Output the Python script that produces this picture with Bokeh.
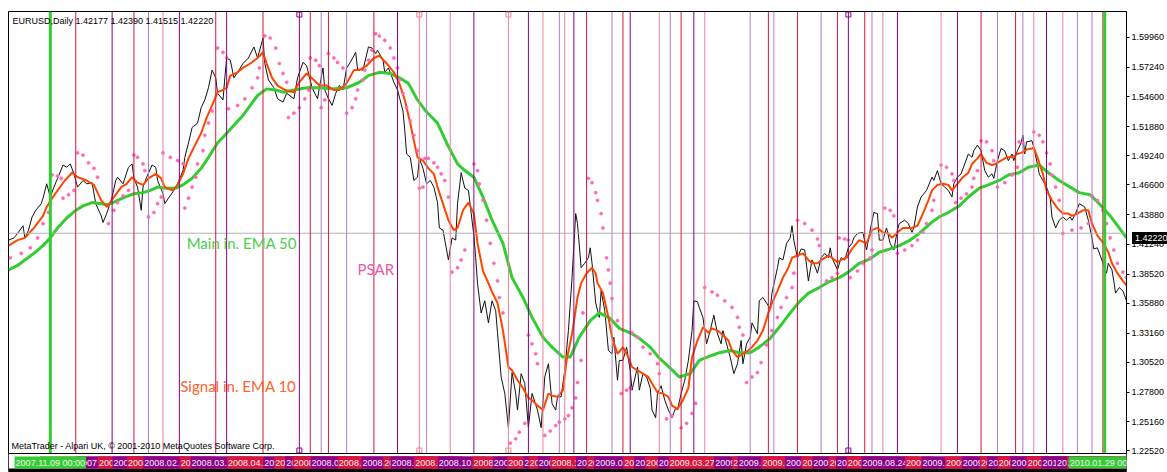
import numpy as np
from bokeh.plotting import figure
from bokeh.models import Range1d, FixedTicker, NumeralTickFormatter, Span, Label, Div, BoxAnnotation
from bokeh.embed import file_html
from bokeh.resources import INLINE

# ---------------- data (bar index = trading days since START_DATE) ----------------
START_DATE = "2007-10-09"

close_pts = [
    (0, 1.416), (3, 1.418), (5, 1.422), (8, 1.429), (9, 1.418), (11, 1.425), (13, 1.437), (15, 1.443), (18, 1.449), (19, 1.454),
    (21, 1.467), (23, 1.455), (25, 1.464), (27, 1.472), (30, 1.484), (32, 1.482), (34, 1.485), (36, 1.476), (38, 1.464), (41, 1.470),
    (43, 1.467), (46, 1.468), (48, 1.449), (51, 1.438), (52, 1.432), (54, 1.440), (57, 1.455), (59, 1.470), (60, 1.473), (63, 1.467),
    (66, 1.482), (68, 1.485), (69, 1.472), (71, 1.464), (73, 1.443), (74, 1.464), (76, 1.473), (79, 1.484), (81, 1.482), (82, 1.470),
    (85, 1.458), (86, 1.449), (88, 1.454), (91, 1.461), (93, 1.467), (96, 1.479), (97, 1.491), (99, 1.504), (101, 1.518), (104, 1.522),
    (106, 1.536), (108, 1.543), (110, 1.554), (112, 1.570), (114, 1.563), (115, 1.549), (118, 1.543), (119, 1.563), (120, 1.581), (122, 1.579),
    (124, 1.563), (126, 1.568), (129, 1.576), (132, 1.581), (135, 1.591), (137, 1.581), (140, 1.599), (141, 1.576), (143, 1.561), (146, 1.554),
    (148, 1.544), (151, 1.541), (153, 1.549),
    (157, 1.544), (159, 1.563), (162, 1.577), (164, 1.574), (167, 1.554), (170, 1.544), (171, 1.554), (173, 1.572), (174, 1.552), (176, 1.544),
    (178, 1.538), (180, 1.549), (182, 1.556), (184, 1.552), (186, 1.572), (188, 1.577), (191, 1.586), (192, 1.571), (195, 1.570), (198, 1.591),
    (200, 1.590), (202, 1.585), (203, 1.588), (206, 1.579), (207, 1.568), (209, 1.572), (212, 1.559), (214, 1.552), (217, 1.533), (218, 1.515),
    (219, 1.494), (221, 1.491), (223, 1.470), (225, 1.473), (226, 1.490), (228, 1.481), (230, 1.467), (232, 1.470), (234, 1.464), (236, 1.450),
    (237, 1.427), (239, 1.425), (241, 1.407), (242, 1.398), (244, 1.418), (246, 1.416), (247, 1.449), (249, 1.477), (251, 1.463), (253, 1.461),
    (256, 1.420), (257, 1.400), (258, 1.377), (260, 1.350), (262, 1.361), (264, 1.341), (266, 1.361), (268, 1.352), (269, 1.332), (271, 1.292),
    (273, 1.277), (275, 1.246), (277, 1.296), (279, 1.277), (280, 1.262), (282, 1.295), (284, 1.286), (286, 1.246), (288, 1.277), (291, 1.262),
    (293, 1.246), (295, 1.292), (297, 1.304), (299, 1.268), (301, 1.262), (302, 1.274), (304, 1.274), (306, 1.298),
    (308, 1.334), (310, 1.382), (312, 1.440), (313, 1.431), (315, 1.391), (317, 1.395), (319, 1.400), (320, 1.409), (321, 1.395), (323, 1.359),
    (325, 1.346), (326, 1.370), (328, 1.352), (330, 1.316), (332, 1.313), (333, 1.328), (335, 1.289), (336, 1.307), (338, 1.307), (340, 1.319),
    (342, 1.298), (343, 1.280), (346, 1.301), (347, 1.280), (349, 1.295), (351, 1.292), (353, 1.282), (354, 1.262), (356, 1.255), (357, 1.277),
    (359, 1.284), (361, 1.271), (363, 1.262), (365, 1.255), (367, 1.264), (368, 1.262), (370, 1.277), (372, 1.289), (374, 1.307), (376, 1.334),
    (377, 1.361), (379, 1.360), (380, 1.355), (382, 1.346), (384, 1.322), (386, 1.334), (388, 1.348), (390, 1.331), (392, 1.322), (393, 1.334),
    (395, 1.322), (397, 1.310), (399, 1.295), (401, 1.304), (403, 1.325), (404, 1.304), (406, 1.322), (408, 1.328), (409, 1.341), (412, 1.331),
    (413, 1.361), (415, 1.364), (417, 1.359), (419, 1.354), (420, 1.368), (423, 1.391), (424, 1.400), (426, 1.398), (428, 1.413), (430, 1.418),
    (431, 1.429), (432, 1.416), (434, 1.400), (436, 1.408), (438, 1.407), (440, 1.379), (442, 1.398), (443, 1.395), (445, 1.386), (447, 1.400),
    (449, 1.404), (451, 1.400), (452, 1.409), (453, 1.400), (456, 1.389), (458, 1.400), (460, 1.398), (462, 1.409),
    (464, 1.413), (465, 1.418), (467, 1.422), (470, 1.423), (472, 1.407), (474, 1.425), (476, 1.441), (478, 1.440), (479, 1.416), (481, 1.416),
    (483, 1.427), (485, 1.413), (487, 1.407), (489, 1.425), (490, 1.431), (493, 1.434), (495, 1.431), (497, 1.423), (498, 1.427), (500, 1.446),
    (502, 1.455), (505, 1.461), (508, 1.473), (509, 1.470), (511, 1.479), (513, 1.467), (515, 1.464), (517, 1.461), (519, 1.455), (520, 1.467),
    (522, 1.473), (524, 1.476), (526, 1.485), (528, 1.494), (530, 1.491), (531, 1.497), (533, 1.502), (535, 1.497), (537, 1.479), (539, 1.473),
    (541, 1.476), (542, 1.472), (544, 1.488), (546, 1.499), (548, 1.497), (550, 1.488), (552, 1.494), (553, 1.488), (555, 1.497), (557, 1.504),
    (558, 1.511), (559, 1.494), (560, 1.505), (563, 1.506), (564, 1.500), (566, 1.485), (567, 1.476), (569, 1.470), (571, 1.464), (573, 1.455),
    (574, 1.437), (576, 1.427), (578, 1.434), (580, 1.437), (582, 1.434), (584, 1.437), (585, 1.434), (587, 1.440), (589, 1.449), (592, 1.446),
    (594, 1.434), (596, 1.418), (597, 1.408), (599, 1.409), (601, 1.400), (603, 1.391), (604, 1.386), (605, 1.395), (607, 1.389), (608, 1.379),
    (609, 1.368), (611, 1.373), (613, 1.370), (615, 1.361),
]

ema10_pts = [
    (0, 1.411), (5, 1.416), (9, 1.418), (14, 1.427), (19, 1.438), (21, 1.446), (24, 1.454), (27, 1.461), (31, 1.470), (35, 1.477),
    (38, 1.473), (43, 1.470), (47, 1.466), (51, 1.452), (54, 1.446), (58, 1.455), (62, 1.464), (65, 1.467), (68, 1.473), (71, 1.468),
    (74, 1.466), (77, 1.472), (81, 1.476), (84, 1.472), (86, 1.464), (90, 1.461), (93, 1.466), (96, 1.476), (99, 1.490), (102, 1.500),
    (106, 1.513), (109, 1.527), (112, 1.538), (115, 1.550), (118, 1.552), (120, 1.554), (122, 1.565), (126, 1.568), (129, 1.572), (133, 1.576),
    (137, 1.581), (140, 1.586), (142, 1.576), (145, 1.563), (148, 1.556), (152, 1.552), (157, 1.550), (160, 1.559), (164, 1.567), (168, 1.561),
    (171, 1.556), (175, 1.556), (179, 1.552), (182, 1.552), (186, 1.558), (190, 1.570), (193, 1.570), (197, 1.574), (201, 1.581), (204, 1.583),
    (208, 1.576), (212, 1.568), (215, 1.558), (218, 1.543), (221, 1.522), (223, 1.506), (225, 1.491), (228, 1.488), (231, 1.481), (234, 1.476),
    (236, 1.464), (239, 1.449), (242, 1.434), (245, 1.425), (247, 1.427), (250, 1.443), (253, 1.450), (256, 1.440), (258, 1.413), (261, 1.388),
    (264, 1.377), (266, 1.369), (269, 1.359), (272, 1.334), (275, 1.301), (277, 1.298), (280, 1.289), (283, 1.282), (286, 1.273), (288, 1.271),
    (291, 1.266), (294, 1.262), (297, 1.277), (299, 1.275), (302, 1.274), (305, 1.280), (307, 1.307), (310, 1.331), (313, 1.364), (315, 1.377),
    (318, 1.386), (321, 1.391), (323, 1.386), (324, 1.377), (327, 1.368), (330, 1.346), (332, 1.328), (335, 1.313), (338, 1.319), (341, 1.310),
    (343, 1.301), (346, 1.298), (349, 1.295), (352, 1.292), (354, 1.286), (357, 1.278), (360, 1.277), (363, 1.274), (365, 1.266), (368, 1.263),
    (371, 1.271), (374, 1.282), (376, 1.310), (379, 1.325), (382, 1.337), (385, 1.332), (387, 1.336), (390, 1.334), (393, 1.330), (396, 1.325),
    (398, 1.316), (401, 1.310), (404, 1.313), (407, 1.316), (409, 1.319), (412, 1.325), (415, 1.334), (418, 1.350), (420, 1.359), (423, 1.370),
    (426, 1.382), (429, 1.391), (431, 1.400), (434, 1.402), (437, 1.404), (440, 1.398), (442, 1.395), (445, 1.395), (448, 1.399), (451, 1.402),
    (453, 1.400), (456, 1.396), (459, 1.399), (461, 1.400), (464, 1.408), (468, 1.416), (472, 1.413), (475, 1.425), (478, 1.427), (481, 1.423),
    (484, 1.422), (486, 1.418), (489, 1.423), (492, 1.427), (494, 1.427), (497, 1.427), (500, 1.429), (503, 1.440), (506, 1.452), (508, 1.461),
    (511, 1.466), (514, 1.467), (517, 1.466), (519, 1.461), (522, 1.467), (525, 1.473), (528, 1.477), (530, 1.485), (533, 1.490), (535, 1.494),
    (538, 1.486), (541, 1.484), (543, 1.485), (546, 1.488), (549, 1.491), (552, 1.491), (555, 1.494), (557, 1.495), (560, 1.498), (563, 1.499),
    (564, 1.500), (566, 1.491), (569, 1.476), (571, 1.461), (574, 1.452), (577, 1.445), (580, 1.440), (583, 1.440), (585, 1.438), (588, 1.440),
    (591, 1.443), (594, 1.443), (596, 1.431), (599, 1.420), (602, 1.414), (605, 1.405), (607, 1.395), (610, 1.386), (613, 1.379), (615, 1.375),
]

ema50_pts = [
    (0, 1.389), (5, 1.393), (9, 1.398), (14, 1.404), (19, 1.411), (23, 1.418), (27, 1.427), (32, 1.436), (37, 1.443), (41, 1.447),
    (46, 1.450), (51, 1.449), (55, 1.448), (60, 1.452), (64, 1.455), (69, 1.458), (74, 1.459), (78, 1.461), (82, 1.464), (87, 1.463),
    (92, 1.463), (96, 1.466), (101, 1.472), (106, 1.481), (110, 1.491), (115, 1.504), (119, 1.511), (124, 1.520), (129, 1.529), (133, 1.538),
    (137, 1.547), (142, 1.553), (147, 1.552), (151, 1.550), (157, 1.552), (164, 1.554), (171, 1.554), (178, 1.553), (186, 1.554), (193, 1.559),
    (198, 1.565), (204, 1.568), (210, 1.567), (215, 1.563), (220, 1.558), (225, 1.543), (230, 1.532), (236, 1.522), (241, 1.504), (247, 1.485),
    (251, 1.479), (256, 1.473), (261, 1.455), (266, 1.434), (272, 1.413), (277, 1.382), (283, 1.364), (288, 1.346), (294, 1.328), (299, 1.319),
    (305, 1.310), (309, 1.310), (314, 1.328), (320, 1.343), (325, 1.350), (331, 1.345), (336, 1.336), (342, 1.332), (347, 1.327), (353, 1.319),
    (358, 1.309), (364, 1.300), (369, 1.292), (375, 1.295), (380, 1.307), (386, 1.311), (391, 1.314), (397, 1.316), (402, 1.314), (408, 1.314),
    (413, 1.319), (419, 1.327), (424, 1.337), (430, 1.350), (435, 1.360), (440, 1.368), (446, 1.373), (451, 1.378), (457, 1.382), (462, 1.387),
    (468, 1.395), (474, 1.399), (479, 1.405), (485, 1.408), (490, 1.411), (496, 1.416), (501, 1.422), (507, 1.431), (512, 1.437), (517, 1.441),
    (523, 1.447), (528, 1.455), (534, 1.463), (539, 1.466), (545, 1.470), (550, 1.475), (556, 1.477), (561, 1.482), (567, 1.484), (572, 1.477),
    (578, 1.470), (584, 1.464), (589, 1.459), (595, 1.457), (600, 1.449), (606, 1.438), (611, 1.427), (615, 1.418),
]

psar_pts = [
    (1, 1.400), (7, 1.404), (12, 1.409), (16, 1.418), (19, 1.431), (22, 1.441),
    (24, 1.475), (27, 1.474), (29, 1.472),
    (30, 1.454), (33, 1.457), (36, 1.461),
    (38, 1.495), (41, 1.493), (44, 1.486), (47, 1.481), (49, 1.473),
    (55, 1.431), (58, 1.443), (60, 1.450), (63, 1.456), (66, 1.461),
    (69, 1.493), (71, 1.491), (74, 1.485), (75, 1.479),
    (77, 1.437), (80, 1.441), (82, 1.449), (84, 1.455),
    (85, 1.495), (89, 1.491), (93, 1.488), (96, 1.485),
    (97, 1.445), (99, 1.454), (101, 1.464), (103, 1.473), (104, 1.485), (107, 1.497), (108, 1.511), (110, 1.522), (112, 1.533),
    (115, 1.590), (118, 1.586), (120, 1.581),
    (121, 1.535), (126, 1.538), (130, 1.544), (134, 1.554), (137, 1.563), (138, 1.572),
    (141, 1.601), (144, 1.599), (147, 1.590), (149, 1.576), (151, 1.567), (153, 1.559),
    (154, 1.527), (157, 1.531), (160, 1.536), (163, 1.544), (165, 1.552),
    (166, 1.581), (169, 1.579), (171, 1.574),
    (172, 1.536), (174, 1.543),
    (176, 1.585), (179, 1.581), (181, 1.577), (184, 1.572),
    (186, 1.531), (189, 1.536), (191, 1.544), (192, 1.552), (195, 1.561), (196, 1.570), (198, 1.579), (200, 1.588),
    (202, 1.603), (204, 1.601), (207, 1.597), (210, 1.590), (212, 1.581), (214, 1.572), (215, 1.561), (217, 1.549), (219, 1.536), (221, 1.524), (223, 1.511), (225, 1.497),
    (226, 1.463), (228, 1.464),
    (229, 1.490), (231, 1.490), (234, 1.486), (236, 1.482), (238, 1.476), (240, 1.470), (242, 1.455),
    (244, 1.387), (247, 1.391), (249, 1.398), (251, 1.407),
    (256, 1.485), (258, 1.479), (259, 1.467), (261, 1.452), (263, 1.434), (265, 1.413), (267, 1.395), (269, 1.379), (270, 1.364), (272, 1.350),
    (276, 1.232), (279, 1.236), (281, 1.242), (284, 1.250),
    (286, 1.330), (288, 1.322), (290, 1.313), (291, 1.304),
    (295, 1.239), (298, 1.243), (301, 1.248), (303, 1.251), (306, 1.254), (308, 1.257), (310, 1.264), (312, 1.273), (313, 1.287), (315, 1.307), (316, 1.350),
    (319, 1.472), (321, 1.468), (323, 1.459), (324, 1.452), (326, 1.440), (327, 1.427), (329, 1.400), (330, 1.389), (331, 1.377), (332, 1.363), (335, 1.343),
    (337, 1.277), (340, 1.280), (342, 1.282),
    (343, 1.332), (346, 1.328), (349, 1.319), (353, 1.313), (357, 1.304), (358, 1.295),
    (362, 1.254), (365, 1.257),
    (370, 1.246), (373, 1.250), (376, 1.259), (378, 1.268),
    (383, 1.373), (387, 1.369), (390, 1.366), (394, 1.361), (398, 1.355), (401, 1.346), (402, 1.337), (404, 1.330),
    (406, 1.287), (409, 1.292), (412, 1.296), (414, 1.305), (417, 1.321), (420, 1.334), (423, 1.346), (425, 1.355), (428, 1.364), (431, 1.373), (432, 1.386),
    (434, 1.434), (438, 1.431), (442, 1.425), (445, 1.417), (446, 1.411),
    (450, 1.379), (453, 1.382), (456, 1.386),
    (457, 1.418), (460, 1.417), (462, 1.416),
    (463, 1.382), (467, 1.388), (470, 1.395), (474, 1.400), (475, 1.407),
    (482, 1.445), (485, 1.443), (487, 1.438),
    (489, 1.404), (493, 1.407), (497, 1.411), (500, 1.416), (503, 1.423), (505, 1.431), (508, 1.443), (509, 1.452),
    (513, 1.484), (516, 1.482), (519, 1.476), (520, 1.470),
    (521, 1.450), (524, 1.454), (527, 1.458), (530, 1.464), (531, 1.472), (533, 1.479),
    (535, 1.506), (538, 1.505), (541, 1.497), (542, 1.488),
    (544, 1.464), (548, 1.468), (552, 1.475), (555, 1.482),
    (556, 1.505), (558, 1.504),
    (564, 1.514), (567, 1.511), (569, 1.505), (571, 1.495), (573, 1.485), (574, 1.475), (576, 1.464), (578, 1.452),
    (580, 1.422), (585, 1.425), (590, 1.427), (594, 1.431),
    (596, 1.456), (599, 1.452), (602, 1.443), (604, 1.431), (606, 1.418), (608, 1.407), (610, 1.395),
    (613, 1.387), (615, 1.382),
]

# vertical line objects: bar index and kind (C crimson, c light crimson, P purple, p light purple, G green)
vline_bars = [23, 37, 57, 69, 77, 85, 94, 114, 120, 140, 160, 166, 172, 176, 186, 201, 214, 226, 230, 243,
              256, 275, 286, 294, 303, 306, 311, 318, 332, 338, 342, 358, 364, 370, 377, 383, 408, 418, 421, 434,
              447, 456, 462, 471, 475, 481, 489, 513, 522, 535, 544, 554, 558, 564, 571, 580, 588, 596, 602, 603]
vline_kinds = ["G", "C", "P", "C", "p", "c", "P", "C", "P", "C", "P", "C", "p", "C", "p", "C", "P", "c", "p", "c",
               "P", "c", "P", "c", "p", "c", "P", "C", "p", "C", "P", "c", "p", "C", "P", "c", "p", "C", "p", "C",
               "p", "C", "P", "C", "p", "c", "P", "c", "P", "C", "p", "C", "p", "c", "P", "c", "p", "p", "C", "G"]
marked_bars = [160, 226, 275, 462]

price_ticks = [1.5996, 1.5724, 1.5460, 1.5188, 1.4924, 1.4660, 1.4388, 1.4124,
               1.3852, 1.3588, 1.3316, 1.3052, 1.2780, 1.2516, 1.2252]
bid_price = 1.4222
header_text = "EURUSD,Daily  1.42177 1.42390 1.41515 1.42220"
footer_text = "MetaTrader - Alpari UK, \u00a9 2001-2010 MetaQuotes Software Corp."

# ---------------- styling / layout ----------------
LINE_COL = {"C": "#DC143C", "c": "#EE8298", "P": "#8B008B", "p": "#B47CC8", "G": "#32CD32"}
LABEL_COL = {"C": "#DC143C", "c": "#DC143C", "P": "#8B008B", "p": "#8B008B", "G": "#32CD32"}
FONT = "Liberation Sans"

W, H = 1167, 472
B_LEFT, B_TOP, B_RIGHT, B_BOTTOM = 8, 11, 40, 0
FRAME_W = W - B_LEFT - B_RIGHT
FRAME_H = H - B_TOP - B_BOTTOM
X0, X1 = 0, 615
Y1 = 1.6231                      # price at the top edge
PX = 0.000906                    # price per pixel
Y0 = Y1 - FRAME_H * PX           # frame bottom (includes the time-label strip)
Y_CHART_BOTTOM = Y1 - 442 * PX   # bottom edge of the price area

p = figure(width=W, height=H, x_range=Range1d(X0, X1), y_range=Range1d(Y0, Y1),
           x_axis_location=None, y_axis_location="right",
           output_backend="svg", toolbar_location=None,
           min_border_left=B_LEFT, min_border_right=B_RIGHT,
           min_border_top=B_TOP, min_border_bottom=B_BOTTOM)
p.outline_line_color = "black"
p.outline_line_width = 1
p.grid.visible = False
p.background_fill_color = "white"
p.border_fill_color = "white"

ax = p.yaxis[0]
ax.ticker = FixedTicker(ticks=price_ticks, minor_ticks=[])
ax.formatter = NumeralTickFormatter(format="0.00000")
ax.major_label_text_font = FONT
ax.major_label_text_font_size = "9px"
ax.major_label_text_color = "black"
ax.major_tick_out = 3
ax.major_tick_in = 0
ax.minor_tick_out = 0
ax.minor_tick_in = 0
ax.major_label_standoff = 2
ax.axis_line_color = "black"


def unzip(pts):
    return [a for a, _ in pts], [b for _, b in pts]


cx, cy = unzip(close_pts)
e10x, e10y = unzip(ema10_pts)
e50x, e50y = unzip(ema50_pts)
psx, psy = unzip(psar_pts)

p.line(cx, cy, line_color="#111111", line_width=1)
p.line(e50x, e50y, line_color="#32CD32", line_width=3)
p.line(e10x, e10y, line_color="#FF4500", line_width=2)
p.scatter(psx, psy, marker="circle", size=3.2, fill_color="#FF69B4", line_color="#FF69B4", line_width=0.5)

# bid line
p.add_layout(Span(location=bid_price, dimension="width", line_color="#B4B4B4", line_width=1))

# vertical lines
for b, k in zip(vline_bars, vline_kinds):
    p.add_layout(Span(location=b, dimension="height", line_color=LINE_COL[k],
                      line_width=3 if k == "G" else 1))

# small hollow squares on some line objects
mk_cols = [LINE_COL[vline_kinds[vline_bars.index(b)]] for b in marked_bars]
p.scatter(marked_bars, [Y1 - 3 * PX] * len(marked_bars), marker="square", size=5,
          fill_color="white", line_color=mk_cols)
p.scatter(marked_bars, [Y_CHART_BOTTOM + 3 * PX] * len(marked_bars), marker="square", size=5,
          fill_color="white", line_color=mk_cols)


def bar_date(b):
    d = np.busday_offset(START_DATE, int(b), roll="forward")
    return str(d).replace("-", ".") + " 00:00"


# bottom edge of the price area, then the time-label strip
p.add_layout(Span(location=Y_CHART_BOTTOM, dimension="width", line_color="black", line_width=1))
# white strip below the price area (covers the vertical lines) and the window's black bottom edge
p.add_layout(BoxAnnotation(bottom=Y0, top=Y_CHART_BOTTOM - 0.5 * PX, fill_color="white", fill_alpha=1.0,
                           line_color=None))
p.add_layout(BoxAnnotation(bottom=Y0, top=Y0 + 4 * PX, fill_color="black", fill_alpha=1.0,
                           line_color=None))

order = [i for i, k in enumerate(vline_kinds) if k != "G"] + [i for i, k in enumerate(vline_kinds) if k == "G"]
for i in order:
    b, k = vline_bars[i], vline_kinds[i]
    p.add_layout(Label(x=b, y=Y_CHART_BOTTOM - 3 * PX, text=bar_date(b),
                       text_align="center", text_baseline="top", text_font=FONT,
                       text_font_size="9px", text_color="#F2F2F2",
                       background_fill_color=LABEL_COL[k], padding=1))

# header and footer
p.add_layout(Label(x=4, y=FRAME_H - 4, x_units="screen", y_units="screen", text=header_text,
                   text_font=FONT, text_font_size="9px", text_color="black", text_baseline="top"))
p.add_layout(Label(x=3, y=22, x_units="screen", y_units="screen", text=footer_text,
                   text_font=FONT, text_font_size="9px", text_color="black", text_baseline="bottom"))

# notes
p.add_layout(Label(x=98, y=1.413, text="Main in. EMA 50", text_font="Lato", text_font_size="15px",
                   text_color="#4CCF4C", text_baseline="middle"))
p.add_layout(Label(x=192, y=1.390, text="PSAR", text_font="Lato", text_font_size="15px",
                   text_color="#F2559E", text_baseline="middle"))
p.add_layout(Label(x=94.5, y=1.2834, text="Signal in. EMA 10", text_font="Lato", text_font_size="15px",
                   text_color="#FF6130", text_baseline="middle"))

# current-price marker on the price axis (outside the plot frame, so placed as an overlay box)
bid_top = B_TOP + round((Y1 - bid_price) / PX) - 6
bid_box = Div(text="1.42220", width=37, height=12,
              styles={"position": "absolute", "left": f"{W - B_RIGHT}px", "top": f"{bid_top}px",
                      "background-color": "black", "color": "white",
                      "font-family": "'Liberation Sans'", "font-size": "9px", "line-height": "12px",
                      "padding-left": "3px", "box-sizing": "border-box", "z-index": "10"})

open("out.html", "w").write(file_html([p, bid_box], INLINE))
